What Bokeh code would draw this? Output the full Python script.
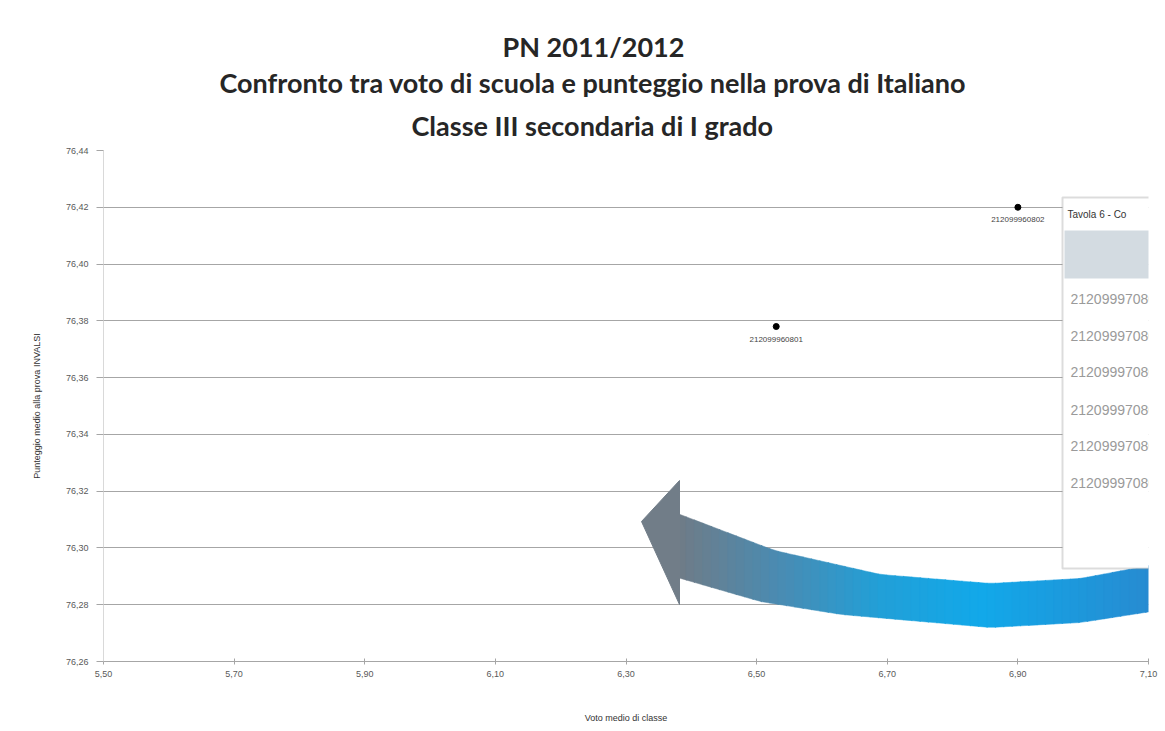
import numpy as np
from bokeh.plotting import figure
from bokeh.models import (ColumnDataSource, FixedTicker, Label, BoxAnnotation,
                          Range1d, LabelSet, Title)
from bokeh.core.properties import value
from bokeh.embed import file_html
from bokeh.resources import INLINE

# ---------------- data ----------------
class_codes = ["212099960801", "212099960802"]
voto_medio = [6.53, 6.90]
punteggio_medio = [76.378, 76.420]

x_ticks = [5.50, 5.70, 5.90, 6.10, 6.30, 6.50, 6.70, 6.90, 7.10]
x_tick_labels = ["5,50", "5,70", "5,90", "6,10", "6,30", "6,50", "6,70", "6,90", "7,10"]
y_ticks = [76.26, 76.28, 76.30, 76.32, 76.34, 76.36, 76.38, 76.40, 76.42, 76.44]
y_tick_labels = ["76,26", "76,28", "76,30", "76,32", "76,34", "76,36", "76,38", "76,40", "76,42", "76,44"]

title_lines = ["PN 2011/2012",
               "Confronto tra voto di scuola e punteggio nella prova di Italiano",
               "Classe III secondaria di I grado"]
x_title = "Voto medio di classe"
y_title = "Punteggio medio alla prova INVALSI"

table_title = "Tavola 6 - Co"
table_rows = ["212099970801", "212099970802", "212099970803",
              "212099970804", "212099970805", "212099970806"]

# ---------------- figure ----------------
W, H = 1165, 731
FL, FB = 103, 661   # frame left / frame bottom in page pixels
p = figure(width=W, height=H, output_backend="svg", toolbar_location=None,
           x_range=Range1d(5.50, 7.10), y_range=Range1d(76.26, 76.44),
           min_border_left=FL, min_border_right=17, min_border_top=150,
           min_border_bottom=H - FB)
p.outline_line_color = None
p.background_fill_color = "white"
p.border_fill_color = "white"

# titles: first added sits nearest to the frame; left-aligned with offsets so the
# block is centred at about x = 592 like the reference
title_offsets = [399, 116, 308]
title_standoffs = [1, 0, 17]
for t, off, so in reversed(list(zip(title_lines, title_offsets, title_standoffs))):
    p.add_layout(Title(text=t, align="left", offset=off, standoff=so,
                       text_font="Lato", text_font_style="bold",
                       text_font_size="27px", text_color="#262626"), "above")

# axes
p.xaxis.ticker = FixedTicker(ticks=x_ticks)
p.xaxis.major_label_overrides = {t: l for t, l in zip(x_ticks, x_tick_labels)}
p.yaxis.ticker = FixedTicker(ticks=y_ticks)
p.yaxis.major_label_overrides = {t: l for t, l in zip(y_ticks, y_tick_labels)}
for ax in (p.xaxis, p.yaxis):
    ax.major_label_text_font = "Liberation Sans"
    ax.major_label_text_font_size = "9px"
    ax.major_label_text_color = "#595959"
    ax.axis_label_text_font = "Liberation Sans"
    ax.axis_label_text_font_size = "9px"
    ax.axis_label_text_font_style = "normal"
    ax.axis_label_text_color = "#333333"
    ax.minor_tick_line_color = None

p.xaxis.axis_label = x_title
p.xaxis.axis_line_color = "#a6a6a6"
p.xaxis.major_tick_line_color = "#a6a6a6"
p.xaxis.major_tick_in = 3
p.xaxis.major_tick_out = 3
p.xaxis.major_label_standoff = 6
p.xaxis.axis_label_standoff = 33

p.yaxis.axis_label = y_title
p.yaxis.axis_line_color = "#d9d9d9"
p.yaxis.major_tick_line_color = "#a6a6a6"
p.yaxis.major_tick_in = 0
p.yaxis.major_tick_out = 7
p.yaxis.major_label_standoff = 8
p.yaxis.axis_label_standoff = 21

p.xgrid.grid_line_color = None
p.ygrid.grid_line_color = "#a6a6a6"
p.ygrid.grid_line_width = 1.2

# ---------------- helpers (page pixel -> data) for decorations ----------------
def X(px):
    return 5.5 + (px - 103) * 1.6 / 1045.0

def Y(py):
    return 76.26 + (661 - py) * 0.18 / 511.0

# ---------------- decorative curved arrow ----------------
up_px = [677, 774, 880, 990, 1080, 1170]
up_py = [513, 550, 574, 583, 578, 561]
lo_px = [677, 760, 841, 990, 1080, 1170]
lo_py = [577, 601, 614, 627, 622, 608]
stops_x = [677, 780, 880, 980, 1170]
stops_c = [(0x70, 0x7c, 0x87), (0x4a, 0x8c, 0xb3), (0x22, 0xa0, 0xd8),
           (0x12, 0xa9, 0xea), (0x2a, 0x88, 0xce)]

xs_list, ys_list, cols = [], [], []
edges = np.linspace(677, 1170, 60)
for a, b in zip(edges[:-1], edges[1:]):
    b2 = b + 0.8
    ua, ub = np.interp(a, up_px, up_py), np.interp(b2, up_px, up_py)
    la, lb = np.interp(a, lo_px, lo_py), np.interp(b2, lo_px, lo_py)
    xs_list.append([X(a), X(b2), X(b2), X(a)])
    ys_list.append([Y(ua), Y(ub), Y(lb), Y(la)])
    m = (a + b) / 2
    c = tuple(int(np.interp(m, stops_x, [s[k] for s in stops_c])) for k in range(3))
    cols.append("#%02x%02x%02x" % c)
p.patches(xs_list, ys_list, fill_color=cols, line_color=cols, line_width=0.5)
p.patch([X(641), X(679), X(679)], [Y(521), Y(480), Y(604)],
        fill_color="#717d88", line_color="#717d88")

# ---------------- table overlay (decoration) ----------------
p.add_layout(BoxAnnotation(left=X(1062), right=X(1200), top=Y(197), bottom=Y(568),
                           fill_color="white", fill_alpha=1.0,
                           line_color="#8c8c8c", line_width=2))
p.add_layout(BoxAnnotation(left=X(1064), right=X(1200), top=Y(230), bottom=Y(278),
                           fill_color="#d3dbe1", fill_alpha=1.0, line_color=None))
p.add_layout(Label(x=X(1067), y=Y(214), text=table_title, text_font="Liberation Sans",
                   text_font_size="10px", text_color="#333333", text_baseline="middle"))
for t, py in zip(table_rows, [298, 335, 371, 409, 445, 482]):
    p.add_layout(Label(x=X(1070), y=Y(py), text=t, text_font="Liberation Sans",
                       text_font_size="14px", text_color="#9a9a9a",
                       text_baseline="middle"))

# ---------------- data points ----------------
src = ColumnDataSource(dict(x=voto_medio, y=punteggio_medio, code=class_codes))
p.scatter(x="x", y="y", source=src, size=6, fill_color="black", line_color="black")
p.add_layout(LabelSet(x="x", y="y", text="code", source=src, y_offset=-15,
                      text_align="center", text_font=value("Liberation Sans"),
                      text_font_size="8px", text_color="#444444"))

open("out.html", "w").write(file_html(p, INLINE))
